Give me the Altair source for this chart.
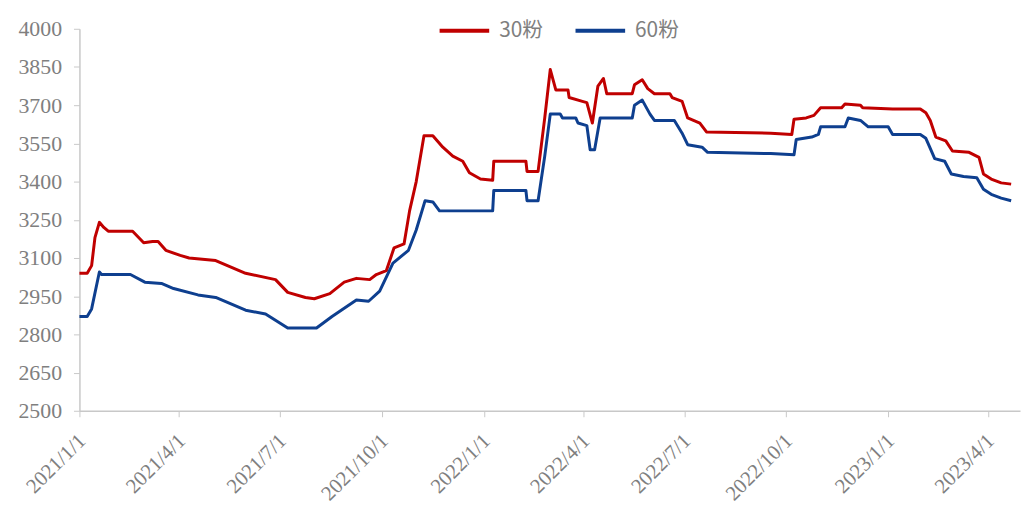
import altair as alt
import pandas as pd

series_names = ["30粉", "60粉"]

dates_30 = [
    "2021/01/01", "2021/01/08", "2021/01/12", "2021/01/15", "2021/01/19", "2021/01/23", "2021/01/27",
    "2021/02/18", "2021/02/28", "2021/03/08", "2021/03/13", "2021/03/20", "2021/04/02", "2021/04/10",
    "2021/05/04", "2021/05/31", "2021/06/27", "2021/07/08", "2021/07/24", "2021/08/01", "2021/08/15",
    "2021/08/28", "2021/09/08", "2021/09/20", "2021/09/26", "2021/10/05", "2021/10/12", "2021/10/21",
    "2021/10/26", "2021/11/01", "2021/11/08", "2021/11/16", "2021/11/25", "2021/12/04", "2021/12/13",
    "2021/12/19", "2021/12/29", "2022/01/09", "2022/01/10", "2022/02/08", "2022/02/09", "2022/02/19",
    "2022/02/25", "2022/03/02", "2022/03/07", "2022/03/18", "2022/03/19", "2022/03/31", "2022/04/04",
    "2022/04/09", "2022/04/14", "2022/04/19", "2022/04/22", "2022/05/15", "2022/05/17", "2022/05/24",
    "2022/05/29", "2022/06/04", "2022/06/18", "2022/06/20", "2022/06/29", "2022/07/04", "2022/07/15",
    "2022/07/21", "2022/09/17", "2022/10/06", "2022/10/08", "2022/10/19", "2022/10/26", "2022/11/01",
    "2022/11/20", "2022/11/23", "2022/12/07", "2022/12/09", "2023/01/05", "2023/01/30", "2023/02/04",
    "2023/02/08", "2023/02/13", "2023/02/22", "2023/02/28", "2023/03/15", "2023/03/24", "2023/03/28",
    "2023/04/04", "2023/04/13", "2023/04/22",
]
values_30 = [
    3040, 3040, 3070, 3180, 3240, 3220, 3205,
    3205, 3160, 3165, 3165, 3130, 3110, 3100,
    3090, 3040, 3015, 2965, 2945, 2940, 2960,
    3005, 3020, 3015, 3035, 3050, 3140, 3155,
    3285, 3400, 3580, 3580, 3535, 3500, 3480,
    3435, 3410, 3405, 3480, 3480, 3440, 3440,
    3650, 3840, 3760, 3760, 3730, 3715, 3710,
    3630, 3775, 3805, 3745, 3745, 3780, 3800,
    3765, 3745, 3745, 3730, 3715, 3650, 3630,
    3595, 3590, 3585, 3645, 3650, 3660, 3690,
    3690, 3705, 3700, 3690, 3685, 3685, 3670,
    3640, 3575, 3560, 3520, 3515, 3495, 3430,
    3410, 3395, 3390,
]

dates_60 = [
    "2021/01/01", "2021/01/08", "2021/01/12", "2021/01/19", "2021/01/21", "2021/01/27", "2021/02/16",
    "2021/03/01", "2021/03/16", "2021/03/27", "2021/04/18", "2021/05/04", "2021/05/31", "2021/06/18",
    "2021/07/08", "2021/07/24", "2021/08/03", "2021/08/17", "2021/09/08", "2021/09/19", "2021/09/29",
    "2021/10/11", "2021/10/25", "2021/11/01", "2021/11/09", "2021/11/16", "2021/11/22", "2022/01/09",
    "2022/01/10", "2022/02/08", "2022/02/09", "2022/02/19", "2022/02/25", "2022/03/02", "2022/03/11",
    "2022/03/13", "2022/03/25", "2022/03/27", "2022/04/04", "2022/04/07", "2022/04/11", "2022/04/16",
    "2022/05/15", "2022/05/17", "2022/05/24", "2022/05/31", "2022/06/04", "2022/06/22", "2022/06/29",
    "2022/07/04", "2022/07/17", "2022/07/22", "2022/09/17", "2022/10/08", "2022/10/10", "2022/10/24",
    "2022/10/30", "2022/11/01", "2022/11/23", "2022/11/26", "2022/12/07", "2022/12/14", "2023/01/01",
    "2023/01/05", "2023/01/30", "2023/02/04", "2023/02/07", "2023/02/12", "2023/02/21", "2023/02/27",
    "2023/03/10", "2023/03/22", "2023/03/28", "2023/04/04", "2023/04/13", "2023/04/22",
]
values_60 = [
    2870, 2870, 2900, 3045, 3035, 3035, 3035,
    3005, 3000, 2980, 2955, 2945, 2895, 2880,
    2825, 2825, 2825, 2870, 2935, 2930, 2970,
    3080, 3130, 3210, 3325, 3320, 3285, 3285,
    3365, 3365, 3325, 3325, 3500, 3665, 3665,
    3650, 3650, 3630, 3620, 3525, 3525, 3650,
    3650, 3700, 3720, 3665, 3640, 3640, 3590,
    3545, 3535, 3515, 3510, 3505, 3565, 3575,
    3585, 3615, 3615, 3650, 3640, 3615, 3615,
    3585, 3585, 3570, 3540, 3490, 3480, 3430,
    3420, 3415, 3370, 3350, 3335, 3325,
]

y_ticks = [2500, 2650, 2800, 2950, 3100, 3250, 3400, 3550, 3700, 3850, 4000]
x_tick_dates = [(2021, 1), (2021, 4), (2021, 7), (2021, 10), (2022, 1), (2022, 4),
                (2022, 7), (2022, 10), (2023, 1), (2023, 4)]

colors = ["#C00000", "#0E3F8F"]

df = pd.concat([
    pd.DataFrame({"date": dates_30, "value": values_30, "series": series_names[0]}),
    pd.DataFrame({"date": dates_60, "value": values_60, "series": series_names[1]}),
])

label_color = "#7f7f7f"
axis_color = "#c8c8c8"

chart = alt.Chart(df).mark_line(strokeWidth=3, strokeJoin="round").encode(
    x=alt.X(
        "date:T",
        scale=alt.Scale(domain=[alt.DateTime(year=2021, month=1, date=1),
                                alt.DateTime(year=2023, month=4, date=30)]),
        axis=alt.Axis(
            title=None,
            values=[alt.DateTime(year=y, month=m, date=1) for y, m in x_tick_dates],
            format="%Y/%-m/%-d",
            labelAngle=-45,
            labelFont="Liberation Serif",
            labelFontSize=21,
            labelColor=label_color,
            labelPadding=13,
            labelOffset=-5,
            tickSize=6,
            tickColor=axis_color,
            domainColor=axis_color,
            domainWidth=1.5,
            grid=False,
        ),
    ),
    y=alt.Y(
        "value:Q",
        scale=alt.Scale(domain=[2500, 4000], nice=False, zero=False),
        axis=alt.Axis(
            title=None,
            values=y_ticks,
            format="d",
            labelFont="Liberation Serif",
            labelFontSize=22,
            labelColor=label_color,
            labelPadding=12,
            tickSize=6,
            tickColor=axis_color,
            domainColor=axis_color,
            domainWidth=1.5,
            grid=False,
        ),
    ),
    color=alt.Color(
        "series:N",
        scale=alt.Scale(domain=series_names, range=colors),
        legend=alt.Legend(
            title=None,
            orient="none",
            direction="horizontal",
            legendX=361,
            legendY=-25,
            symbolType="stroke",
            symbolSize=2500,
            symbolStrokeWidth=4,
            labelFont="Noto Sans CJK SC",
            labelFontSize=21,
            labelColor=label_color,
            columnPadding=24,
            labelOffset=8,
        ),
    ),
).properties(
    width=948,
    height=385,
    autosize=alt.AutoSizeParams(type="none"),
    padding={"left": 72, "top": 19, "right": 2, "bottom": 92},
).configure_view(stroke=None)

chart.save("out.html", embed_options={"renderer": "svg", "actions": False})
